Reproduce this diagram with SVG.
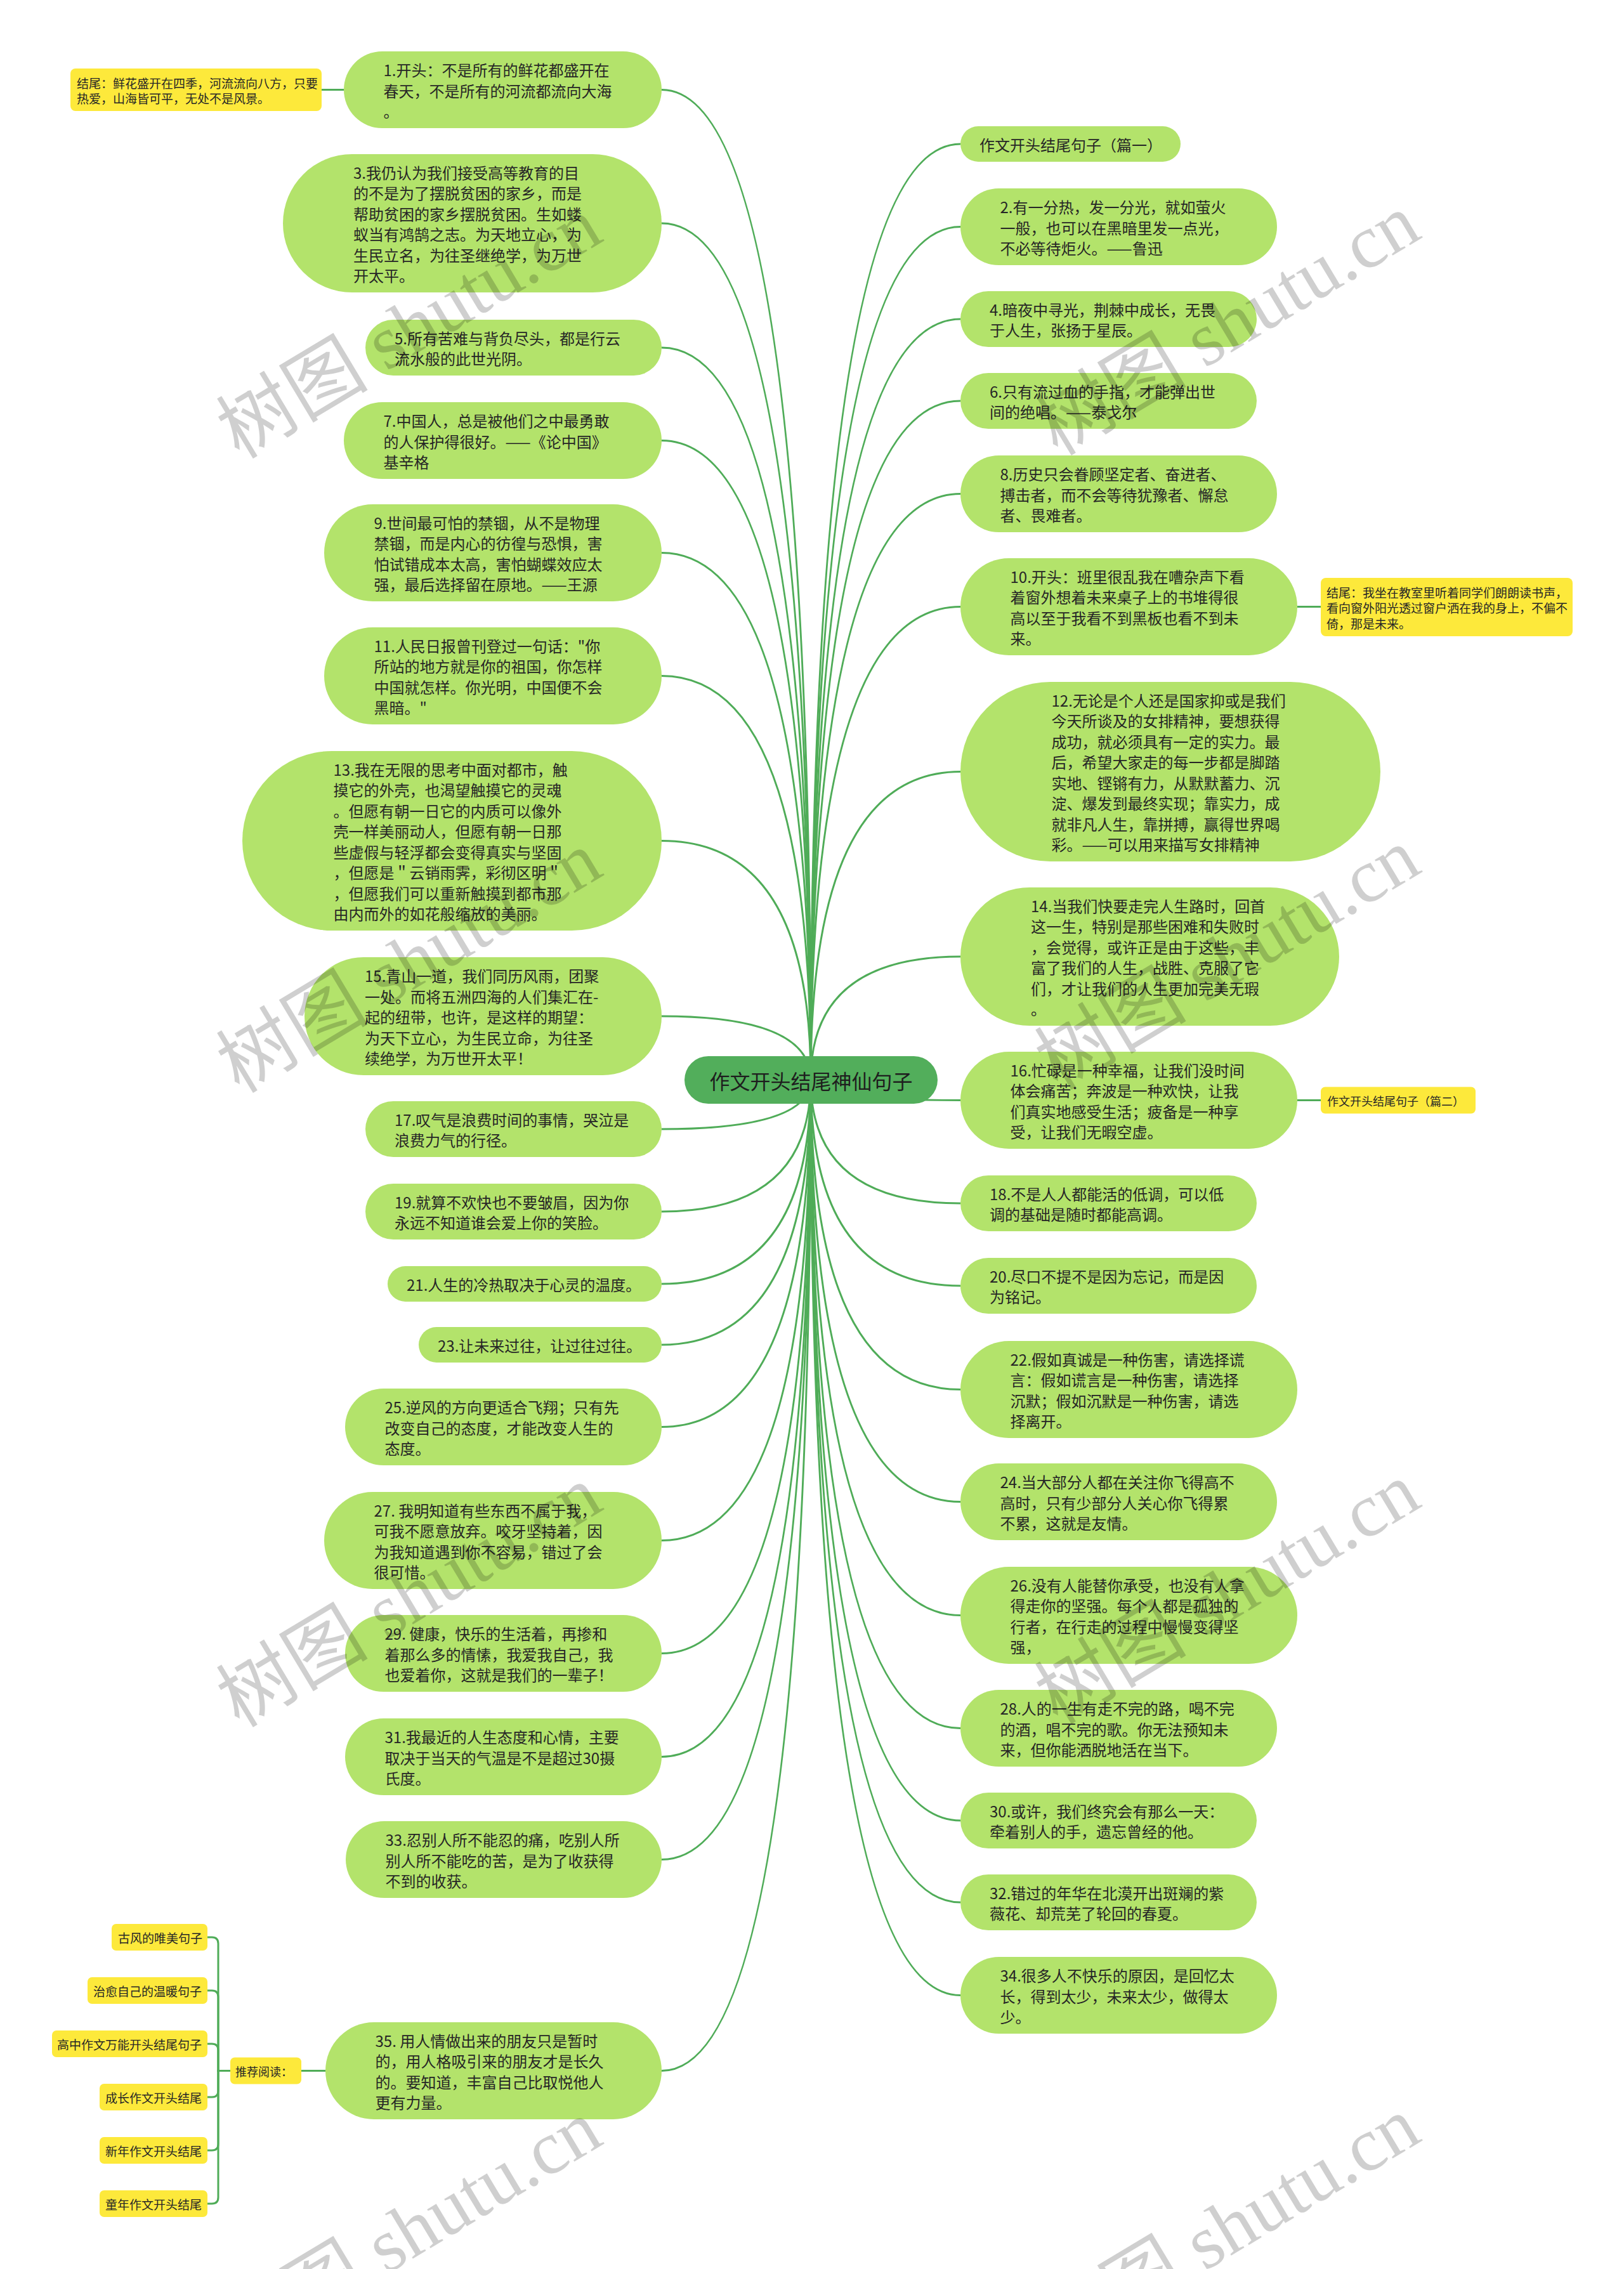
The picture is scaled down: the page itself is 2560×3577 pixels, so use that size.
<svg xmlns="http://www.w3.org/2000/svg" width="2560" height="3577" viewBox="0 0 2560 3577">
<style>
.n{fill:#b3e36b}
.y{fill:#fde93b}
.t{font-family:"Noto Sans CJK SC","Noto Sans",sans-serif;font-size:24px;fill:#262626;dominant-baseline:central}
.ty{font-family:"Noto Sans CJK SC","Noto Sans",sans-serif;font-size:19px;fill:#262626;dominant-baseline:central}
.c{fill:none;stroke:#4fac58;stroke-width:3}
.wm{font-family:"Liberation Serif","Noto Sans CJK SC",serif;font-size:120px;fill:#000;fill-opacity:0.19;text-anchor:middle;dominant-baseline:central}
</style>
<rect x="0" y="0" width="2560" height="3577" fill="#ffffff"/>
<g id="connectors">
<path class="c" d="M1278 1702 Q1278 141.5 1043 141.5"/>
<path class="c" d="M1278 1702 Q1278 352 1043 352"/>
<path class="c" d="M1278 1702 Q1278 548 1043 548"/>
<path class="c" d="M1278 1702 Q1278 694.5 1043 694.5"/>
<path class="c" d="M1278 1702 Q1278 871.5 1043 871.5"/>
<path class="c" d="M1278 1702 Q1278 1065.5 1043 1065.5"/>
<path class="c" d="M1278 1702 Q1278 1325.5 1043 1325.5"/>
<path class="c" d="M1278 1702 Q1278 1602 1043 1602"/>
<path class="c" d="M1278 1702 Q1278 1780 1043 1780"/>
<path class="c" d="M1278 1702 Q1278 1910 1043 1910"/>
<path class="c" d="M1278 1702 Q1278 2024 1043 2024"/>
<path class="c" d="M1278 1702 Q1278 2120 1043 2120"/>
<path class="c" d="M1278 1702 Q1278 2249.5 1043 2249.5"/>
<path class="c" d="M1278 1702 Q1278 2428.5 1043 2428.5"/>
<path class="c" d="M1278 1702 Q1278 2606.5 1043 2606.5"/>
<path class="c" d="M1278 1702 Q1278 2769.5 1043 2769.5"/>
<path class="c" d="M1278 1702 Q1278 2931.5 1043 2931.5"/>
<path class="c" d="M1278 1702 Q1278 3264.5 1043 3264.5"/>
<path class="c" d="M1278 1702 Q1278 227 1514 227"/>
<path class="c" d="M1278 1702 Q1278 357.5 1514 357.5"/>
<path class="c" d="M1278 1702 Q1278 503 1514 503"/>
<path class="c" d="M1278 1702 Q1278 632 1514 632"/>
<path class="c" d="M1278 1702 Q1278 778.5 1514 778.5"/>
<path class="c" d="M1278 1702 Q1278 956.5 1514 956.5"/>
<path class="c" d="M1278 1702 Q1278 1216.5 1514 1216.5"/>
<path class="c" d="M1278 1702 Q1278 1508 1514 1508"/>
<path class="c" d="M1278 1702 Q1278 1734.5 1514 1734.5"/>
<path class="c" d="M1278 1702 Q1278 1897 1514 1897"/>
<path class="c" d="M1278 1702 Q1278 2027 1514 2027"/>
<path class="c" d="M1278 1702 Q1278 2190.5 1514 2190.5"/>
<path class="c" d="M1278 1702 Q1278 2367.5 1514 2367.5"/>
<path class="c" d="M1278 1702 Q1278 2546.5 1514 2546.5"/>
<path class="c" d="M1278 1702 Q1278 2724.5 1514 2724.5"/>
<path class="c" d="M1278 1702 Q1278 2870 1514 2870"/>
<path class="c" d="M1278 1702 Q1278 2999 1514 2999"/>
<path class="c" d="M1278 1702 Q1278 3145.5 1514 3145.5"/>
<path class="c" d="M542 141.5 H507"/>
<path class="c" d="M2045 956.5 H2082"/>
<path class="c" d="M2045 1734.5 H2082"/>
<path class="c" d="M513 3264.5 H475"/>
<path class="c" d="M363 3264.5 H344 V3064 Q344 3054 334 3054 H327"/>
<path class="c" d="M363 3264.5 H344 V3148 Q344 3138 334 3138 H327"/>
<path class="c" d="M363 3264.5 H344 V3232 Q344 3222 334 3222 H327"/>
<path class="c" d="M363 3264.5 H344 V3296 Q344 3306 334 3306 H327"/>
<path class="c" d="M363 3264.5 H344 V3380 Q344 3390 334 3390 H327"/>
<path class="c" d="M363 3264.5 H344 V3464 Q344 3474 334 3474 H327"/>
</g>
<g id="root">
<rect x="1079" y="1665" width="399" height="75" rx="37.5" fill="#52ae5b"/>
<text x="1278.5" y="1702.5" text-anchor="middle" style="font-family:'Noto Sans CJK SC','Noto Sans',sans-serif;font-size:32px;fill:#1e1e1e;dominant-baseline:central">作文开头结尾神仙句子</text>
</g>
<g id="n1"><rect class="n" x="542" y="81" width="501" height="121" rx="60.5"/><text class="t"><tspan x="604.5" y="109">1.开头：不是所有的鲜花都盛开在</tspan><tspan x="604.5" y="141.5">春天，不是所有的河流都流向大海</tspan><tspan x="604.5" y="174">。</tspan></text></g>
<g id="tag1"><rect class="y" x="111" y="108" width="396" height="67" rx="8"/><text class="ty"><tspan x="121" y="129.5">结尾：鲜花盛开在四季，河流流向八方，只要</tspan><tspan x="121" y="154">热爱，山海皆可平，无处不是风景。</tspan></text></g>
<g id="n3"><rect class="n" x="446" y="243" width="597" height="218" rx="109"/><text class="t"><tspan x="557" y="270.75">3.我仍认为我们接受高等教育的目</tspan><tspan x="557" y="303.25">的不是为了摆脱贫困的家乡，而是</tspan><tspan x="557" y="335.75">帮助贫困的家乡摆脱贫困。生如蝼</tspan><tspan x="557" y="368.25">蚁当有鸿鹄之志。为天地立心，为</tspan><tspan x="557" y="400.75">生民立名，为往圣继绝学，为万世</tspan><tspan x="557" y="433.25">开太平。</tspan></text></g>
<g id="n5"><rect class="n" x="576" y="504" width="467" height="88" rx="44"/><text class="t"><tspan x="622" y="531.75">5.所有苦难与背负尽头，都是行云</tspan><tspan x="622" y="564.25">流水般的此世光阴。</tspan></text></g>
<g id="n7"><rect class="n" x="542" y="634" width="501" height="121" rx="60.5"/><text class="t"><tspan x="604.5" y="662">7.中国人，总是被他们之中最勇敢</tspan><tspan x="604.5" y="694.5">的人保护得很好。——《论中国》</tspan><tspan x="604.5" y="727">基辛格</tspan></text></g>
<g id="n9"><rect class="n" x="511" y="795" width="532" height="153" rx="76.5"/><text class="t"><tspan x="589.5" y="822.75">9.世间最可怕的禁锢，从不是物理</tspan><tspan x="589.5" y="855.25">禁锢，而是内心的彷徨与恐惧，害</tspan><tspan x="589.5" y="887.75">怕试错成本太高，害怕蝴蝶效应太</tspan><tspan x="589.5" y="920.25">强，最后选择留在原地。——王源</tspan></text></g>
<g id="n11"><rect class="n" x="511" y="989" width="532" height="153" rx="76.5"/><text class="t"><tspan x="589.5" y="1016.75">11.人民日报曾刊登过一句话："你</tspan><tspan x="589.5" y="1049.25">所站的地方就是你的祖国，你怎样</tspan><tspan x="589.5" y="1081.75">中国就怎样。你光明，中国便不会</tspan><tspan x="589.5" y="1114.25">黑暗。"</tspan></text></g>
<g id="n13"><rect class="n" x="382" y="1184" width="661" height="283" rx="141.5"/><text class="t"><tspan x="525.5" y="1211.75">13.我在无限的思考中面对都市，触</tspan><tspan x="525.5" y="1244.25">摸它的外壳，也渴望触摸它的灵魂</tspan><tspan x="525.5" y="1276.75">。但愿有朝一日它的内质可以像外</tspan><tspan x="525.5" y="1309.25">壳一样美丽动人，但愿有朝一日那</tspan><tspan x="525.5" y="1341.75">些虚假与轻浮都会变得真实与坚固</tspan><tspan x="525.5" y="1374.25">，但愿是＂云销雨霁，彩彻区明＂</tspan><tspan x="525.5" y="1406.75">，但愿我们可以重新触摸到都市那</tspan><tspan x="525.5" y="1439.25">由内而外的如花般缩放的美丽。</tspan></text></g>
<g id="n15"><rect class="n" x="480" y="1509" width="563" height="186" rx="93"/><text class="t"><tspan x="575" y="1537">15.青山一道，我们同历风雨，团聚</tspan><tspan x="575" y="1569.5">一处。而将五洲四海的人们集汇在-</tspan><tspan x="575" y="1602">起的纽带，也许，是这样的期望：</tspan><tspan x="575" y="1634.5">为天下立心，为生民立命，为往圣</tspan><tspan x="575" y="1667">续绝学，为万世开太平！</tspan></text></g>
<g id="n17"><rect class="n" x="576" y="1736" width="467" height="88" rx="44"/><text class="t"><tspan x="622" y="1763.75">17.叹气是浪费时间的事情，哭泣是</tspan><tspan x="622" y="1796.25">浪费力气的行径。</tspan></text></g>
<g id="n19"><rect class="n" x="576" y="1866" width="467" height="88" rx="44"/><text class="t"><tspan x="622" y="1893.75">19.就算不欢快也不要皱眉，因为你</tspan><tspan x="622" y="1926.25">永远不知道谁会爱上你的笑脸。</tspan></text></g>
<g id="n21"><rect class="n" x="611" y="1996" width="432" height="56" rx="28"/><text class="t"><tspan x="641" y="2024">21.人生的冷热取决于心灵的温度。</tspan></text></g>
<g id="n23"><rect class="n" x="660" y="2092" width="383" height="56" rx="28"/><text class="t"><tspan x="690" y="2120">23.让未来过往，让过往过往。</tspan></text></g>
<g id="n25"><rect class="n" x="544" y="2189" width="499" height="121" rx="60.5"/><text class="t"><tspan x="606.5" y="2217">25.逆风的方向更适合飞翔；只有先</tspan><tspan x="606.5" y="2249.5">改变自己的态度，才能改变人生的</tspan><tspan x="606.5" y="2282">态度。</tspan></text></g>
<g id="n27"><rect class="n" x="511" y="2352" width="532" height="153" rx="76.5"/><text class="t"><tspan x="589.5" y="2379.75">27. 我明知道有些东西不属于我，</tspan><tspan x="589.5" y="2412.25">可我不愿意放弃。咬牙坚持着，因</tspan><tspan x="589.5" y="2444.75">为我知道遇到你不容易，错过了会</tspan><tspan x="589.5" y="2477.25">很可惜。</tspan></text></g>
<g id="n29"><rect class="n" x="544" y="2546" width="499" height="121" rx="60.5"/><text class="t"><tspan x="606.5" y="2574">29. 健康，快乐的生活着，再掺和</tspan><tspan x="606.5" y="2606.5">着那么多的情愫，我爱我自己，我</tspan><tspan x="606.5" y="2639">也爱着你，这就是我们的一辈子！</tspan></text></g>
<g id="n31"><rect class="n" x="544" y="2709" width="499" height="121" rx="60.5"/><text class="t"><tspan x="606.5" y="2737">31.我最近的人生态度和心情，主要</tspan><tspan x="606.5" y="2769.5">取决于当天的气温是不是超过30摄</tspan><tspan x="606.5" y="2802">氏度。</tspan></text></g>
<g id="n33"><rect class="n" x="545" y="2871" width="498" height="121" rx="60.5"/><text class="t"><tspan x="607.5" y="2899">33.忍别人所不能忍的痛，吃别人所</tspan><tspan x="607.5" y="2931.5">别人所不能吃的苦，是为了收获得</tspan><tspan x="607.5" y="2964">不到的收获。</tspan></text></g>
<g id="n35"><rect class="n" x="513" y="3188" width="530" height="153" rx="76.5"/><text class="t"><tspan x="591.5" y="3215.75">35. 用人情做出来的朋友只是暂时</tspan><tspan x="591.5" y="3248.25">的，用人格吸引来的朋友才是长久</tspan><tspan x="591.5" y="3280.75">的。要知道，丰富自己比取悦他人</tspan><tspan x="591.5" y="3313.25">更有力量。</tspan></text></g>
<g id="rec"><rect class="y" x="363" y="3243.5" width="112" height="42" rx="7"/><text class="ty" x="371" y="3264.5" style="font-size:18px">推荐阅读：</text></g>
<g id="rec1"><rect class="y" x="176" y="3033" width="151" height="42" rx="7"/><text class="ty" x="186" y="3054">古风的唯美句子</text></g>
<g id="rec2"><rect class="y" x="138" y="3117" width="189" height="42" rx="7"/><text class="ty" x="147" y="3138">治愈自己的温暖句子</text></g>
<g id="rec3"><rect class="y" x="82" y="3201" width="245" height="42" rx="7"/><text class="ty" x="90" y="3222">高中作文万能开头结尾句子</text></g>
<g id="rec4"><rect class="y" x="157" y="3285" width="170" height="42" rx="7"/><text class="ty" x="166" y="3306">成长作文开头结尾</text></g>
<g id="rec5"><rect class="y" x="157" y="3369" width="170" height="42" rx="7"/><text class="ty" x="166" y="3390">新年作文开头结尾</text></g>
<g id="rec6"><rect class="y" x="157" y="3453" width="170" height="42" rx="7"/><text class="ty" x="166" y="3474">童年作文开头结尾</text></g>
<g id="r0"><rect class="n" x="1514" y="199" width="347" height="56" rx="28"/><text class="t"><tspan x="1544" y="227">作文开头结尾句子（篇一）</tspan></text></g>
<g id="n2"><rect class="n" x="1514" y="297" width="499" height="121" rx="60.5"/><text class="t"><tspan x="1576.5" y="325">2.有一分热，发一分光，就如萤火</tspan><tspan x="1576.5" y="357.5">一般，也可以在黑暗里发一点光，</tspan><tspan x="1576.5" y="390">不必等待炬火。——鲁迅</tspan></text></g>
<g id="n4"><rect class="n" x="1514" y="459" width="467" height="88" rx="44"/><text class="t"><tspan x="1560" y="486.75">4.暗夜中寻光，荆棘中成长，无畏</tspan><tspan x="1560" y="519.25">于人生，张扬于星辰。</tspan></text></g>
<g id="n6"><rect class="n" x="1514" y="588" width="467" height="88" rx="44"/><text class="t"><tspan x="1560" y="615.75">6.只有流过血的手指，才能弹出世</tspan><tspan x="1560" y="648.25">间的绝唱。——泰戈尔</tspan></text></g>
<g id="n8"><rect class="n" x="1514" y="718" width="499" height="121" rx="60.5"/><text class="t"><tspan x="1576.5" y="746">8.历史只会眷顾坚定者、奋进者、</tspan><tspan x="1576.5" y="778.5">搏击者，而不会等待犹豫者、懈怠</tspan><tspan x="1576.5" y="811">者、畏难者。</tspan></text></g>
<g id="n10"><rect class="n" x="1514" y="880" width="531" height="153" rx="76.5"/><text class="t"><tspan x="1592.5" y="907.75">10.开头：班里很乱我在嘈杂声下看</tspan><tspan x="1592.5" y="940.25">着窗外想着未来桌子上的书堆得很</tspan><tspan x="1592.5" y="972.75">高以至于我看不到黑板也看不到未</tspan><tspan x="1592.5" y="1005.25">来。</tspan></text></g>
<g id="tag10"><rect class="y" x="2082" y="911" width="397" height="92" rx="8"/><text class="ty"><tspan x="2091" y="932.5">结尾：我坐在教室里听着同学们朗朗读书声，</tspan><tspan x="2091" y="957">看向窗外阳光透过窗户洒在我的身上，不偏不</tspan><tspan x="2091" y="981.5">倚，那是未来。</tspan></text></g>
<g id="n12"><rect class="n" x="1514" y="1075" width="662" height="283" rx="141.5"/><text class="t"><tspan x="1657.5" y="1102.75">12.无论是个人还是国家抑或是我们</tspan><tspan x="1657.5" y="1135.25">今天所谈及的女排精神，要想获得</tspan><tspan x="1657.5" y="1167.75">成功，就必须具有一定的实力。最</tspan><tspan x="1657.5" y="1200.25">后，希望大家走的每一步都是脚踏</tspan><tspan x="1657.5" y="1232.75">实地、铿锵有力，从默默蓄力、沉</tspan><tspan x="1657.5" y="1265.25">淀、爆发到最终实现；靠实力，成</tspan><tspan x="1657.5" y="1297.75">就非凡人生，靠拼搏，赢得世界喝</tspan><tspan x="1657.5" y="1330.25">彩。——可以用来描写女排精神</tspan></text></g>
<g id="n14"><rect class="n" x="1514" y="1399" width="597" height="218" rx="109"/><text class="t"><tspan x="1625" y="1426.75">14.当我们快要走完人生路时，回首</tspan><tspan x="1625" y="1459.25">这一生，特别是那些困难和失败时</tspan><tspan x="1625" y="1491.75">，会觉得，或许正是由于这些，丰</tspan><tspan x="1625" y="1524.25">富了我们的人生，战胜、克服了它</tspan><tspan x="1625" y="1556.75">们，才让我们的人生更加完美无瑕</tspan><tspan x="1625" y="1589.25">。</tspan></text></g>
<g id="n16"><rect class="n" x="1514" y="1658" width="531" height="153" rx="76.5"/><text class="t"><tspan x="1592.5" y="1685.75">16.忙碌是一种幸福，让我们没时间</tspan><tspan x="1592.5" y="1718.25">体会痛苦；奔波是一种欢快，让我</tspan><tspan x="1592.5" y="1750.75">们真实地感受生活；疲备是一种享</tspan><tspan x="1592.5" y="1783.25">受，让我们无暇空虚。</tspan></text></g>
<g id="tag16"><rect class="y" x="2082" y="1713.5" width="244" height="42" rx="7"/><text class="ty" x="2092" y="1734.5" style="font-size:18px">作文开头结尾句子（篇二）</text></g>
<g id="n18"><rect class="n" x="1514" y="1853" width="467" height="88" rx="44"/><text class="t"><tspan x="1560" y="1880.75">18.不是人人都能活的低调，可以低</tspan><tspan x="1560" y="1913.25">调的基础是随时都能高调。</tspan></text></g>
<g id="n20"><rect class="n" x="1514" y="1983" width="467" height="88" rx="44"/><text class="t"><tspan x="1560" y="2010.75">20.尽口不提不是因为忘记，而是因</tspan><tspan x="1560" y="2043.25">为铭记。</tspan></text></g>
<g id="n22"><rect class="n" x="1514" y="2114" width="531" height="153" rx="76.5"/><text class="t"><tspan x="1592.5" y="2141.75">22.假如真诚是一种伤害，请选择谎</tspan><tspan x="1592.5" y="2174.25">言：假如谎言是一种伤害，请选择</tspan><tspan x="1592.5" y="2206.75">沉默；假如沉默是一种伤害，请选</tspan><tspan x="1592.5" y="2239.25">择离开。</tspan></text></g>
<g id="n24"><rect class="n" x="1514" y="2307" width="499" height="121" rx="60.5"/><text class="t"><tspan x="1576.5" y="2335">24.当大部分人都在关注你飞得高不</tspan><tspan x="1576.5" y="2367.5">高时，只有少部分人关心你飞得累</tspan><tspan x="1576.5" y="2400">不累，这就是友情。</tspan></text></g>
<g id="n26"><rect class="n" x="1514" y="2470" width="531" height="153" rx="76.5"/><text class="t"><tspan x="1592.5" y="2497.75">26.没有人能替你承受，也没有人拿</tspan><tspan x="1592.5" y="2530.25">得走你的坚强。每个人都是孤独的</tspan><tspan x="1592.5" y="2562.75">行者，在行走的过程中慢慢变得坚</tspan><tspan x="1592.5" y="2595.25">强，</tspan></text></g>
<g id="n28"><rect class="n" x="1514" y="2664" width="499" height="121" rx="60.5"/><text class="t"><tspan x="1576.5" y="2692">28.人的一生有走不完的路，喝不完</tspan><tspan x="1576.5" y="2724.5">的酒，唱不完的歌。你无法预知未</tspan><tspan x="1576.5" y="2757">来，但你能洒脱地活在当下。</tspan></text></g>
<g id="n30"><rect class="n" x="1514" y="2826" width="467" height="88" rx="44"/><text class="t"><tspan x="1560" y="2853.75">30.或许，我们终究会有那么一天：</tspan><tspan x="1560" y="2886.25">牵着别人的手，遗忘曾经的他。</tspan></text></g>
<g id="n32"><rect class="n" x="1514" y="2955" width="467" height="88" rx="44"/><text class="t"><tspan x="1560" y="2982.75">32.错过的年华在北漠开出斑斓的紫</tspan><tspan x="1560" y="3015.25">薇花、却荒芜了轮回的春夏。</tspan></text></g>
<g id="n34"><rect class="n" x="1514" y="3085" width="499" height="121" rx="60.5"/><text class="t"><tspan x="1576.5" y="3113">34.很多人不快乐的原因，是回忆太</tspan><tspan x="1576.5" y="3145.5">长，得到太少，未来太少，做得太</tspan><tspan x="1576.5" y="3178">少。</tspan></text></g>
<g id="watermark">
<text class="wm" transform="translate(645 517) rotate(-31)">树图 shutu.cn</text>
<text class="wm" transform="translate(645 1517) rotate(-31)">树图 shutu.cn</text>
<text class="wm" transform="translate(645 2517) rotate(-31)">树图 shutu.cn</text>
<text class="wm" transform="translate(645 3517) rotate(-31)">树图 shutu.cn</text>
<text class="wm" transform="translate(1935 512) rotate(-31)">树图 shutu.cn</text>
<text class="wm" transform="translate(1935 1512) rotate(-31)">树图 shutu.cn</text>
<text class="wm" transform="translate(1935 2512) rotate(-31)">树图 shutu.cn</text>
<text class="wm" transform="translate(1935 3512) rotate(-31)">树图 shutu.cn</text>
</g>
</svg>
